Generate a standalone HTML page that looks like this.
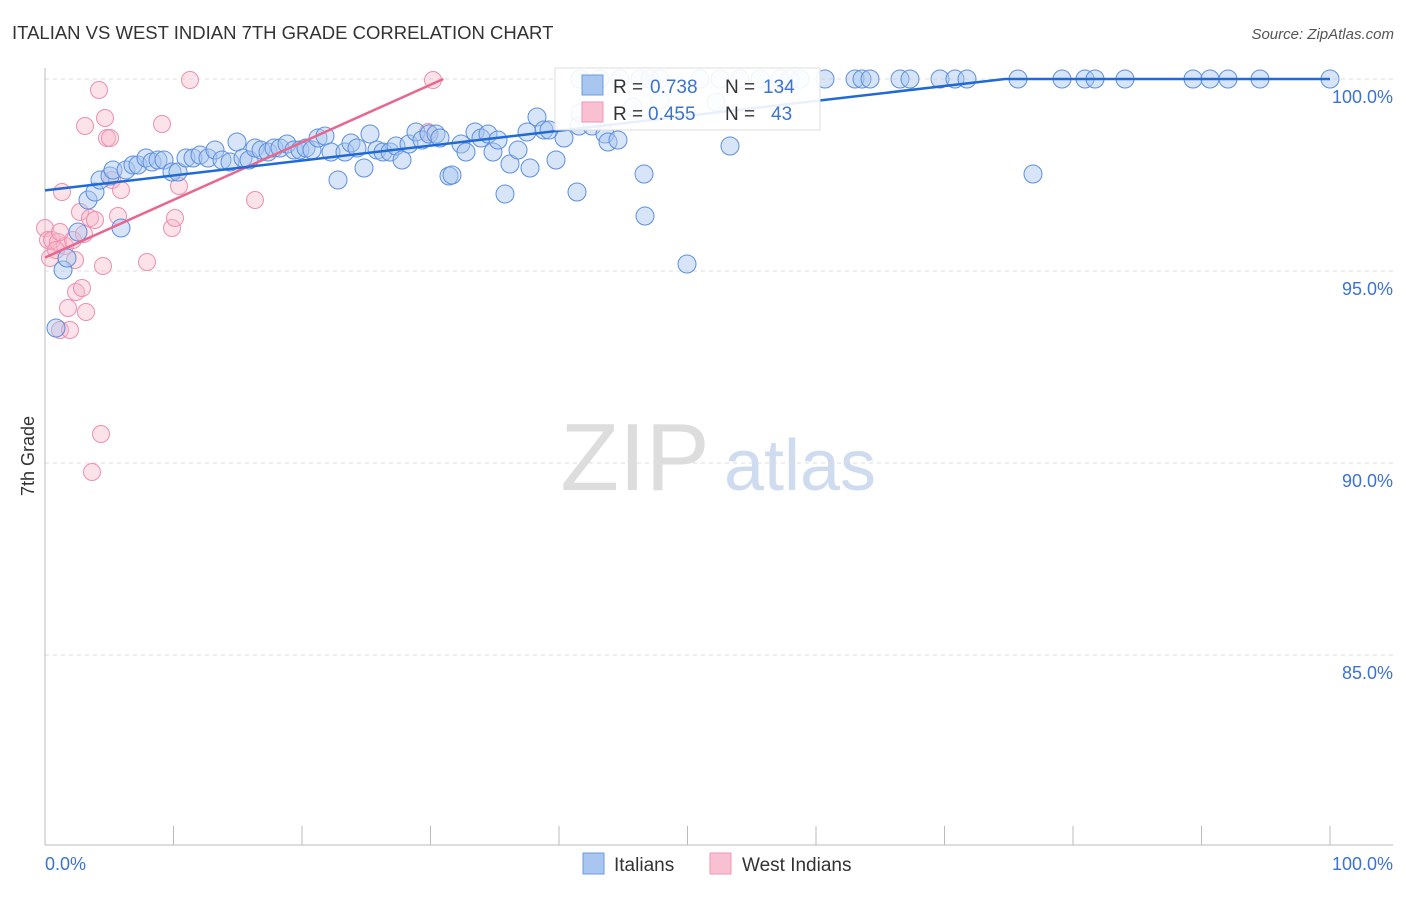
<!DOCTYPE html>
<html><head><meta charset="utf-8"><style>
body{margin:0;background:#fff;font-family:"Liberation Sans",sans-serif;}
svg text{font-family:"Liberation Sans",sans-serif;}
</style></head><body>
<svg id="c" width="1406" height="892">
<text x="12" y="39" font-size="18.5" fill="#333">ITALIAN VS WEST INDIAN 7TH GRADE CORRELATION CHART</text>
<text x="1394" y="39" font-size="15" fill="#555" text-anchor="end" font-style="italic">Source: ZipAtlas.com</text>
<text x="34" y="456" font-size="18" fill="#333" transform="rotate(-90 34 456)" text-anchor="middle">7th Grade</text>
<g><text x="635" y="490" font-size="96" fill="#ddd" font-family="Liberation Serif" text-anchor="middle">ZIP</text><text x="800" y="490" font-size="72" fill="#cfdcf0" text-anchor="middle">atlas</text></g>
<g id="grid"></g><g id="pts"></g><g id="lines"></g>
<g>
<rect x="555" y="68" width="265" height="62" fill="#fff" fill-opacity="0.9" stroke="#ddd"/>
<rect x="582" y="75" width="21" height="20" fill="#a9c6f0" stroke="#6a9be0"/>
<rect x="582" y="102" width="21" height="20" fill="#f8c0d0" stroke="#ee99b3"/>
<text x="613" y="93" font-size="19" fill="#333">R = </text><text x="650" y="93" font-size="19" fill="#3b73d0">0.738</text>
<text x="725" y="93" font-size="19" fill="#333">N = </text><text x="763" y="93" font-size="19" fill="#3b73d0">134</text>
<text x="613" y="120" font-size="19" fill="#333">R = </text><text x="648" y="120" font-size="19" fill="#3b73d0">0.455</text>
<text x="725" y="120" font-size="19" fill="#333">N = </text><text x="771" y="120" font-size="19" fill="#3b73d0">43</text>
</g>
<g>
<rect x="583" y="853" width="21" height="21" fill="#a9c6f0" stroke="#6a9be0"/>
<text x="614" y="871" font-size="19" fill="#333">Italians</text>
<rect x="710" y="853" width="21" height="21" fill="#f8c0d0" stroke="#ee99b3"/>
<text x="742" y="871" font-size="19" fill="#333">West Indians</text>
</g>
</svg>
<script>
const yTicks=[100,95,90,85];
const xTickCount=10;
const bluePx=[[56,328],[63,270],[67,258],[78,232],[88,200],[95,192],[100,180],[110,176],[113,170],[121,228],[126,170],[133,165],[138,165],[146,158],[152,162],[158,160],[164,160],[172,172],[178,172],[186,158],[193,158],[200,155],[208,158],[215,150],[222,160],[230,162],[237,142],[243,158],[249,160],[255,148],[261,150],[268,152],[274,148],[280,148],[287,144],[294,150],[300,150],[306,148],[312,150],[318,138],[325,136],[331,152],[338,180],[345,152],[351,143],[357,148],[364,168],[370,134],[377,150],[383,152],[390,152],[396,146],[402,160],[409,144],[416,132],[422,140],[429,134],[436,134],[440,138],[449,176],[452,175],[461,144],[466,152],[475,132],[481,138],[488,134],[493,152],[498,140],[505,194],[510,164],[518,150],[527,132],[530,168],[537,117],[544,130],[549,130],[556,160],[564,138],[577,192],[579,126],[592,126],[605,134],[608,142],[618,140],[645,216],[644,174],[687,264],[730,146],[1033,174],[633,107],[660,100],[716,102],[580,113],
[580,79],[600,79],[620,79],[640,79],[650,79],[660,79],[700,79],[720,79],[740,79],[760,79],[780,79],[790,79],[800,79],[825,79],[855,79],[862,79],[870,79],[900,79],[910,79],[940,79],[955,79],[967,79],[1018,79],[1062,79],[1085,79],[1095,79],[1125,79],[1193,79],[1210,79],[1228,79],[1260,79],[1330,79]];
const pinkPx=[[45,228],[48,240],[50,258],[52,240],[58,242],[60,330],[62,192],[65,246],[68,308],[70,330],[73,240],[75,260],[76,292],[80,212],[82,288],[84,234],[86,312],[85,126],[90,218],[95,220],[99,90],[101,434],[92,472],[103,266],[105,118],[107,138],[110,138],[112,180],[118,216],[121,190],[147,262],[162,124],[172,228],[175,218],[179,186],[190,80],[255,200],[433,80],[428,132],[60,232],[56,250]];
const X0=45,X1=1330,Y100=79,PPP=38.4;
const italiansX=bluePx.map(p=>(p[0]-X0)/(X1-X0)*100), italiansY=bluePx.map(p=>100-(p[1]-Y100)/PPP);
const westX=pinkPx.map(p=>(p[0]-X0)/(X1-X0)*100), westY=pinkPx.map(p=>100-(p[1]-Y100)/PPP);
const blueLine={x:[0,74.7,100],y:[97.1,100,100]};
const pinkLine={x:[0,31],y:[95.35,100]};
const sx=v=>X0+v/100*(X1-X0), sy=v=>Y100+(100-v)*PPP;
const NS="http://www.w3.org/2000/svg";
function mk(t,a,p){const e=document.createElementNS(NS,t);for(const k in a)e.setAttribute(k,a[k]);p.appendChild(e);return e;}
const g=document.getElementById('grid');
yTicks.forEach(v=>{const l=mk('line',{x1:45,x2:1393,y1:sy(v),y2:sy(v),stroke:'#ddd','stroke-dasharray':'4,4'},g);


const t=mk('text',{x:1393,y:sy(v)+24,'font-size':18,fill:'#3b73d0','text-anchor':'end'},g);t.textContent=v.toFixed(1)+'%';

});
const ax=mk('line',{x1:45,x2:45,y1:68,y2:845,stroke:'#bbb'},g);


const bx=mk('line',{x1:45,x2:1393,y1:845,y2:845,stroke:'#bbb'},g);


for(let i=0;i<=xTickCount;i++){const x=sx(i*100/xTickCount);const t=mk('line',{x1:x,x2:x,y1:826,y2:845,stroke:'#bbb'},g);

}
[['0.0%',45,'start'],['100.0%',1393,'end']].forEach(a=>{const t=mk('text',{x:a[1],y:870,'font-size':18,fill:'#3b73d0','text-anchor':a[2]},g);t.textContent=a[0];

});
const P=document.getElementById('pts');
westX.forEach((x,i)=>{const c=mk('circle',{cx:sx(x),cy:sy(westY[i]),r:8.5,fill:'#f7b6c8','fill-opacity':0.4,stroke:'#ee8fae','stroke-width':1},P);

});
italiansX.forEach((x,i)=>{const c=mk('circle',{cx:sx(x),cy:sy(italiansY[i]),r:9,fill:'#a9c6f0','fill-opacity':0.45,stroke:'#5b8fe0','stroke-width':1},P);

});
const L=document.getElementById('lines');
const pl=mk('polyline',{points:pinkLine.x.map((x,i)=>sx(x)+','+sy(pinkLine.y[i])).join(' '),fill:'none',stroke:'#e8678e','stroke-width':2.5},L);


const bl=mk('polyline',{points:blueLine.x.map((x,i)=>sx(x)+','+sy(blueLine.y[i])).join(' '),fill:'none',stroke:'#1f6ad6','stroke-width':2.5},L);


</script>
</body></html>
